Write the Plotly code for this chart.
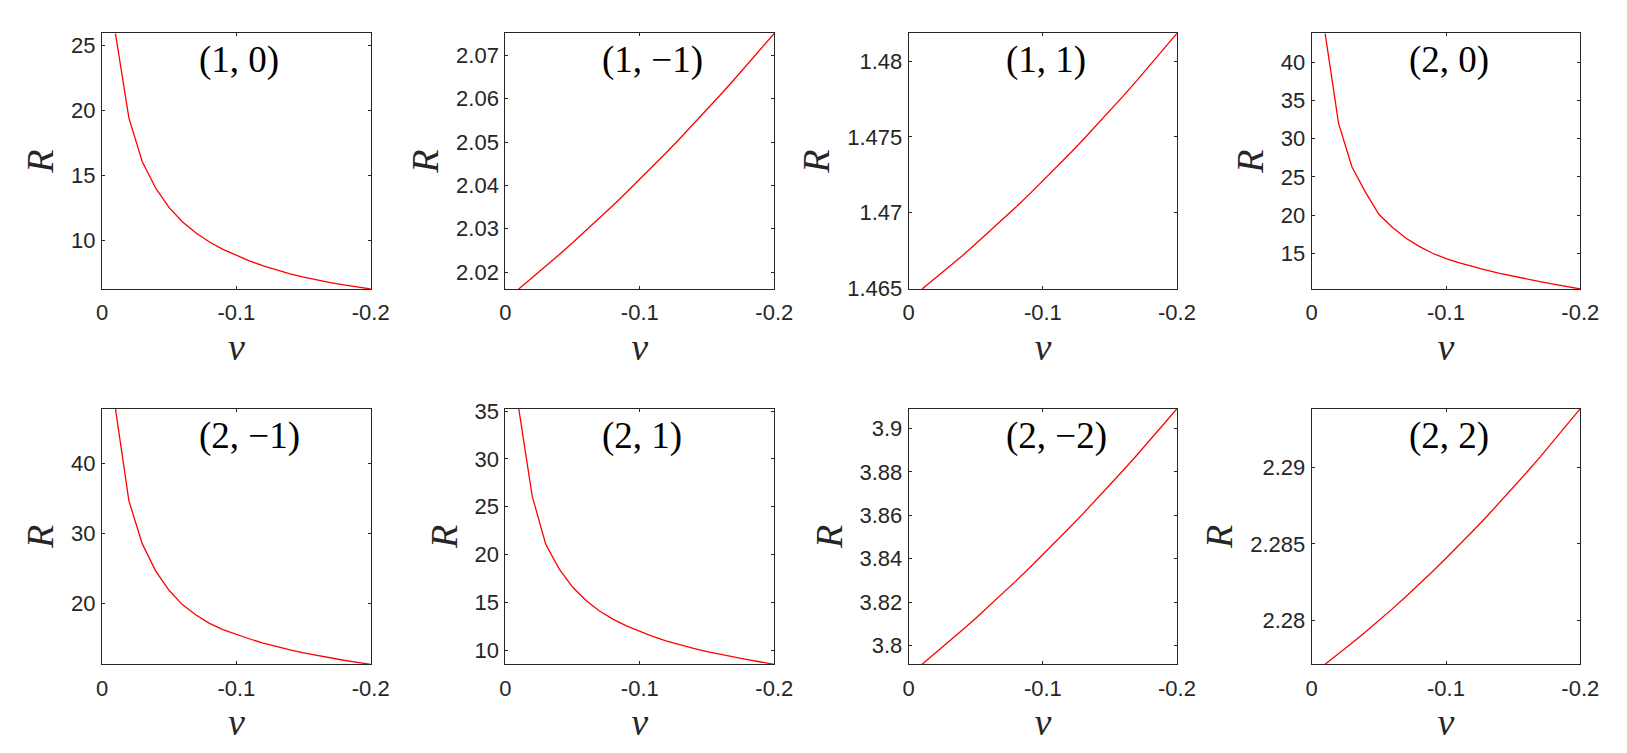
import plotly.graph_objects as go

# ---------------- data ----------------
nu = [-0.01, -0.02, -0.03, -0.04, -0.05, -0.06, -0.07, -0.08, -0.09, -0.10,
      -0.11, -0.12, -0.13, -0.14, -0.15, -0.16, -0.17, -0.18, -0.19, -0.20]

R_1_0 = [25.93, 19.43, 16.05, 14.02, 12.52, 11.42, 10.58, 9.88, 9.32, 8.84,
         8.42, 8.05, 7.72, 7.44, 7.19, 6.96, 6.76, 6.58, 6.42, 6.27]
R_1_m1 = [2.01610, 2.01867, 2.02131, 2.02400, 2.02675, 2.02957, 2.03243, 2.03536, 2.03835, 2.04140,
          2.04450, 2.04767, 2.05089, 2.05417, 2.05751, 2.06091, 2.06437, 2.06789, 2.07146, 2.07510]
R_1_1 = [1.46496, 1.46568, 1.46641, 1.46716, 1.46794, 1.46873, 1.46954, 1.47037, 1.47122, 1.47209,
         1.47298, 1.47388, 1.47481, 1.47576, 1.47672, 1.47770, 1.47871, 1.47973, 1.48077, 1.48183]
R_2_0 = [43.8, 32.0, 26.3, 23.0, 20.1, 18.4, 17.0, 15.9, 15.0, 14.3,
         13.75, 13.25, 12.79, 12.37, 11.98, 11.62, 11.28, 10.95, 10.63, 10.32]
R_2_m1 = [47.9, 34.7, 28.5, 24.6, 21.8, 19.75, 18.3, 17.1, 16.2, 15.5,
          14.85, 14.27, 13.75, 13.28, 12.86, 12.48, 12.13, 11.8, 11.5, 11.22]
R_2_1 = [35.24, 26.1, 21.1, 18.5, 16.6, 15.2, 14.1, 13.25, 12.55, 11.95,
         11.42, 10.96, 10.55, 10.19, 9.86, 9.56, 9.28, 9.02, 8.77, 8.53]
R_2_m2 = [3.79141, 3.79654, 3.80179, 3.80716, 3.81265, 3.81825, 3.82397, 3.82981, 3.83577, 3.84184,
          3.84803, 3.85434, 3.86077, 3.86731, 3.87397, 3.88075, 3.88765, 3.89467, 3.90180, 3.90905]
R_2_2 = [2.27712, 2.27780, 2.27851, 2.27923, 2.27998, 2.28075, 2.28155, 2.28236, 2.28320, 2.28406,
         2.28494, 2.28585, 2.28677, 2.28772, 2.28869, 2.28968, 2.29069, 2.29173, 2.29279, 2.29386]

panel_titles = ["(1, 0)", "(1, \u22121)", "(1, 1)", "(2, 0)",
                "(2, \u22121)", "(2, 1)", "(2, \u22122)", "(2, 2)"]
series = [R_1_0, R_1_m1, R_1_1, R_2_0, R_2_m1, R_2_1, R_2_m2, R_2_2]

x_tickvals = [0, -0.1, -0.2]
x_ticktext = ["0", "-0.1", "-0.2"]

y_tickvals = [
    [10, 15, 20, 25],
    [2.02, 2.03, 2.04, 2.05, 2.06, 2.07],
    [1.465, 1.47, 1.475, 1.48],
    [15, 20, 25, 30, 35, 40],
    [20, 30, 40],
    [10, 15, 20, 25, 30, 35],
    [3.8, 3.82, 3.84, 3.86, 3.88, 3.9],
    [2.28, 2.285, 2.29],
]
y_ticktext = [
    ["10", "15", "20", "25"],
    ["2.02", "2.03", "2.04", "2.05", "2.06", "2.07"],
    ["1.465", "1.47", "1.475", "1.48"],
    ["15", "20", "25", "30", "35", "40"],
    ["20", "30", "40"],
    ["10", "15", "20", "25", "30", "35"],
    ["3.8", "3.82", "3.84", "3.86", "3.88", "3.9"],
    ["2.28", "2.285", "2.29"],
]

# ---------------- layout ----------------
# page is 1627x753; the html body adds an 8px margin around the figure
OFF = 8
W, H = 1627 - 2 * OFF, 753 - 2 * OFF
col_px = [(102, 370.7), (505.3, 774.3), (908.7, 1177), (1311.7, 1580.3)]
row_px = [(33.3, 289), (408.7, 664.3)]

axis_color = "#262626"
tick_font = dict(family="Liberation Sans, Arial, sans-serif", size=22, color=axis_color)
label_font = dict(family="Liberation Serif, Times New Roman, serif", size=38,
                  color=axis_color, style="italic")
title_font = dict(family="Liberation Serif, Times New Roman, serif", size=37, color="black")

fig = go.Figure()
layout = dict(
    template="none",
    width=W, height=H,
    margin=dict(l=0, r=0, t=0, b=0, pad=0),
    paper_bgcolor="white", plot_bgcolor="white",
    showlegend=False,
)
annotations = []

for i, (ys, ttl) in enumerate(zip(series, panel_titles)):
    r, c = divmod(i, 4)
    k = "" if i == 0 else str(i + 1)
    x0, x1 = (v - OFF for v in col_px[c])
    y0, y1 = (v - OFF for v in row_px[r])
    fig.add_trace(go.Scatter(x=nu, y=ys, mode="lines",
                             line=dict(color="#ff0000", width=1.3),
                             xaxis="x" + k, yaxis="y" + k))
    layout["xaxis" + k] = dict(
        domain=[x0 / W, x1 / W], anchor="y" + k, automargin=False,
        range=[0, -0.2], tickvals=x_tickvals, ticktext=x_ticktext,
        ticks="inside", ticklen=3, tickcolor=axis_color, tickwidth=1,
        showline=True, linecolor=axis_color, linewidth=1, mirror="ticks",
        showgrid=False, zeroline=False, tickfont=tick_font,
        ticklabelstandoff=4,
        title=dict(text="\u03bd", font=label_font, standoff=8),
    )
    layout["yaxis" + k] = dict(
        domain=[1 - y1 / H, 1 - y0 / H], anchor="x" + k, automargin=False,
        range=[min(ys), max(ys)], tickvals=y_tickvals[i], ticktext=y_ticktext[i],
        ticks="inside", ticklen=3, tickcolor=axis_color, tickwidth=1,
        showline=True, linecolor=axis_color, linewidth=1, mirror="ticks",
        showgrid=False, zeroline=False, tickfont=tick_font,
        ticklabelstandoff=1,
        title=dict(text="R", font=label_font, standoff=5),
    )
    annotations.append(dict(
        text=ttl, xref="x" + k + " domain", yref="y" + k + " domain",
        x=96 / (x1 - x0), y=1 - 27 / (y1 - y0), xanchor="left", yanchor="middle",
        showarrow=False, font=title_font, borderpad=0,
    ))

layout["annotations"] = annotations
fig.update_layout(**layout)
fig.write_html("out.html")
